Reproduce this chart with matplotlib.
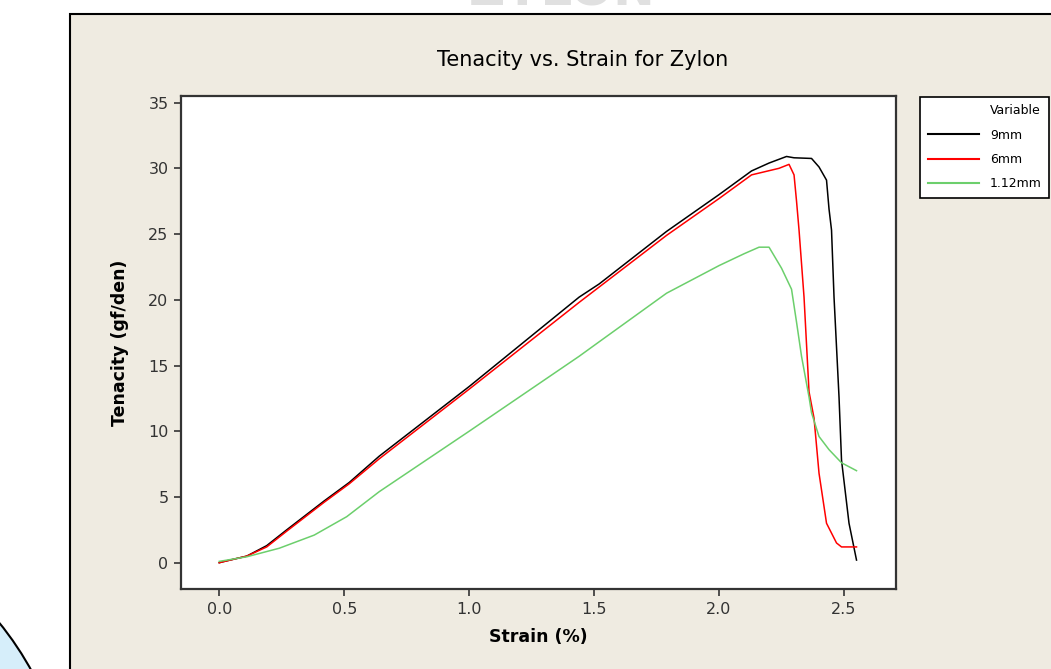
import matplotlib.pyplot as plt
from matplotlib.patches import Rectangle, Ellipse
from matplotlib.lines import Line2D

# strain (%) / tenacity (gf/den)
strain_9mm = [0.0, 0.02, 0.11, 0.19, 0.27, 0.42, 0.52, 0.64, 1.0, 1.44, 1.52, 1.79, 2.0, 2.13,
              2.2, 2.27, 2.30, 2.37, 2.40, 2.43, 2.44, 2.45, 2.46, 2.48, 2.49, 2.52, 2.55]
ten_9mm = [0.0, 0.1, 0.5, 1.3, 2.5, 4.7, 6.1, 8.1, 13.4, 20.2, 21.2, 25.2, 28.0, 29.8,
           30.4, 30.9, 30.8, 30.75, 30.1, 29.1, 26.9, 25.3, 20.2, 12.6, 7.8, 3.0, 0.2]

strain_6mm = [0.0, 0.11, 0.19, 0.27, 0.42, 0.52, 0.64, 1.0, 1.44, 1.79, 2.0, 2.13, 2.24, 2.28,
              2.30, 2.31, 2.32, 2.34, 2.36, 2.38, 2.40, 2.43, 2.47, 2.49, 2.55]
ten_6mm = [0.0, 0.5, 1.2, 2.4, 4.6, 6.0, 7.9, 13.2, 19.8, 24.9, 27.7, 29.5, 30.0, 30.3,
           29.5, 27.5, 25.3, 20.2, 13.0, 11.0, 6.8, 3.0, 1.5, 1.2, 1.2]

strain_112mm = [0.0, 0.11, 0.24, 0.38, 0.51, 0.64, 1.0, 1.44, 1.52, 1.79, 2.0, 2.10, 2.16, 2.20,
                2.25, 2.29, 2.31, 2.33, 2.36, 2.37, 2.40, 2.44, 2.49, 2.55]
ten_112mm = [0.1, 0.45, 1.1, 2.1, 3.5, 5.4, 10.0, 15.7, 16.8, 20.5, 22.6, 23.5, 24.0, 24.0,
             22.4, 20.8, 18.3, 15.7, 12.6, 11.4, 9.6, 8.6, 7.6, 7.0]

series = [("9mm", strain_9mm, ten_9mm, "#000000"),
          ("6mm", strain_6mm, ten_6mm, "#ff0000"),
          ("1.12mm", strain_112mm, ten_112mm, "#6ccf6c")]

x_ticks = [0.0, 0.5, 1.0, 1.5, 2.0, 2.5]
y_ticks = [0, 5, 10, 15, 20, 25, 30, 35]

W, H = 1051, 669
fig = plt.figure(figsize=(W / 100, H / 100), dpi=100)
fig.patch.set_facecolor("white")

# slide background bits: blue circle bottom-left and beige graph panel
fig.patches.append(Ellipse((-250 / W, 1 - 825 / H), 2 * 321 / W, 2 * 321 / H,
                           transform=fig.transFigure, facecolor="#d6eefa",
                           edgecolor="black", lw=1.5, zorder=0))
fig.patches.append(Rectangle((70 / W, -0.1), 1.1, 1.1 - 14 / H,
                             transform=fig.transFigure, facecolor="#efebe1",
                             edgecolor="black", lw=1.5, zorder=0))
# faint slide heading, mostly off the top edge
fig.text(0.535, 1 - 6 / H, "ZYLON", ha="center", va="baseline", fontsize=36,
         fontweight="bold", color="#e0e0e0", zorder=0.5)

ax = fig.add_axes([181 / W, 1 - 589 / H, (896 - 181) / W, (589 - 96) / H])
ax.set_zorder(2)
ax.set_facecolor("white")

for name, xs, ys, col in series:
    ax.plot(xs, ys, color=col, lw=1.1, label=name)

ax.set_xlim(-0.153, 2.708)
ax.set_ylim(-2.0, 35.5)
ax.set_xticks(x_ticks)
ax.set_xticklabels([f"{v:.1f}" for v in x_ticks])
ax.set_yticks(y_ticks)
ax.tick_params(direction="out", length=5, width=1.2, labelsize=11.5,
               colors="#333333", pad=4)
for s in ax.spines.values():
    s.set_color("#333333")
    s.set_linewidth(1.6)

ax.set_xlabel("Strain (%)", fontsize=12.5, fontweight="bold", labelpad=8)
ax.set_ylabel("Tenacity (gf/den)", fontsize=12.5, fontweight="bold", labelpad=14)
fig.text(583 / W, 1 - 60 / H, "Tenacity vs. Strain for Zylon", ha="center",
         va="center", fontsize=15, zorder=3)

handles = [Line2D([], [], color="none")] + [Line2D([], [], color=c, lw=1.5) for _, _, _, c in series]
labels = ["Variable"] + [n for n, _, _, _ in series]
leg = fig.legend(handles, labels, loc="upper left",
                 bbox_to_anchor=(920 / W, 1 - 97 / H), bbox_transform=fig.transFigure,
                 borderaxespad=0, fancybox=False, edgecolor="black", framealpha=1,
                 fontsize=9, handlelength=4.1, handletextpad=0.9, borderpad=0.6,
                 labelspacing=0.9)
leg.get_frame().set_linewidth(1.2)
leg.set_zorder(3)

fig.savefig("out.png", dpi=100)
